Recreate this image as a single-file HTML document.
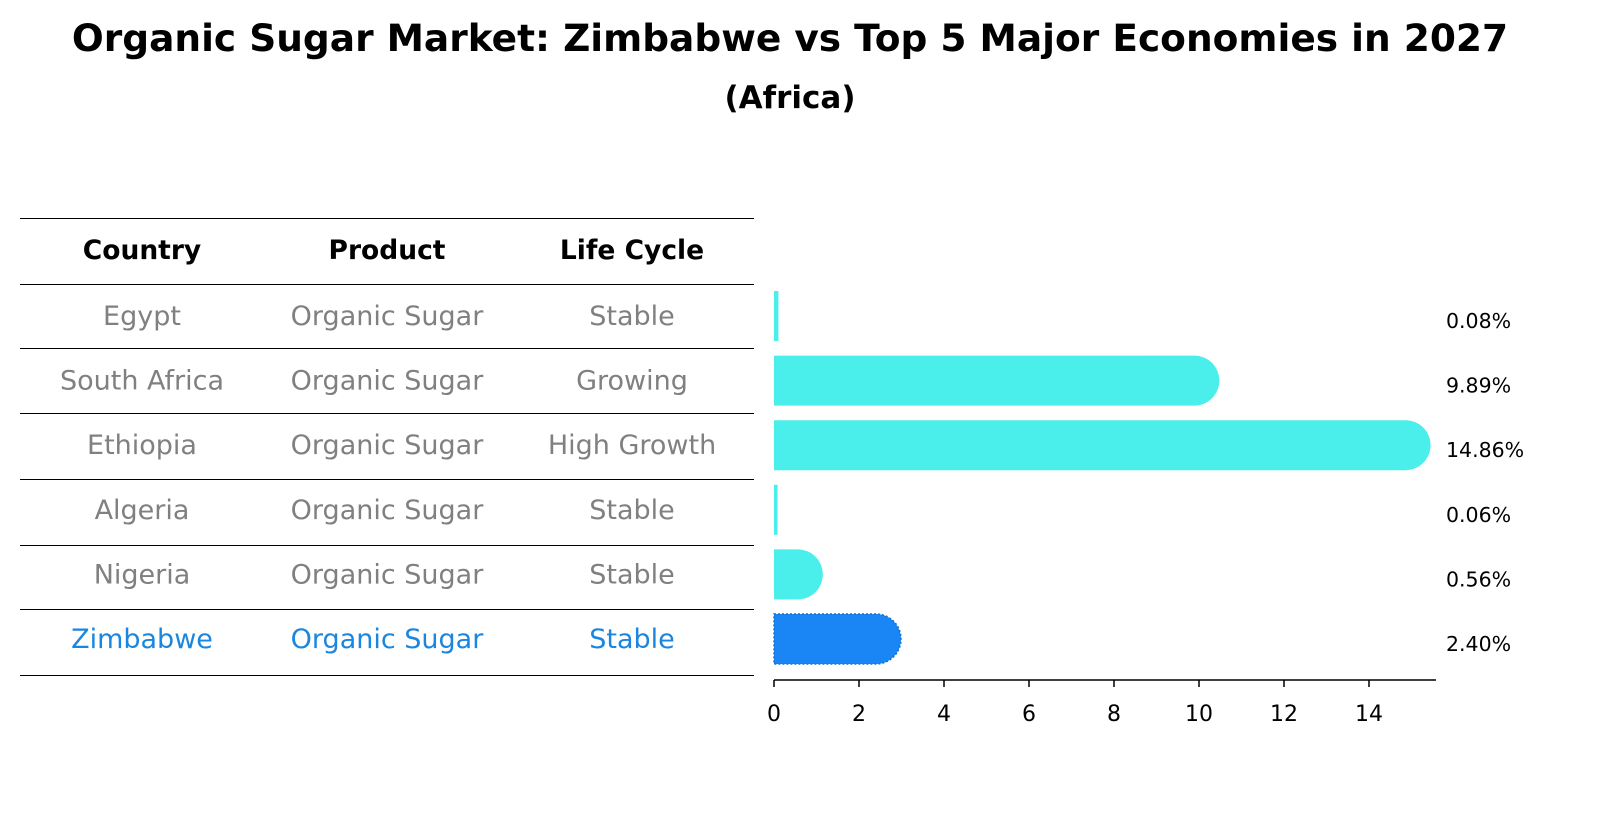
<!DOCTYPE html>
<html><head><meta charset="utf-8"><style>
body{margin:0;background:#fff;font-family:"Liberation Sans","DejaVu Sans",sans-serif}
</style></head><body>
<svg width="1604" height="823" xmlns="http://www.w3.org/2000/svg" font-family="DejaVu Sans, Liberation Sans, sans-serif">
<text x="790" y="51" text-anchor="middle" font-size="37.5" font-weight="bold">Organic Sugar Market: Zimbabwe vs Top 5 Major Economies in 2027</text>
<text x="790" y="108" text-anchor="middle" font-size="31" font-weight="bold">(Africa)</text>
<g id="table"></g>
<g id="bars"></g>
</svg>
<script>
const countries=["Egypt","South Africa","Ethiopia","Algeria","Nigeria","Zimbabwe"];
const products=["Organic Sugar","Organic Sugar","Organic Sugar","Organic Sugar","Organic Sugar","Organic Sugar"];
const lifecycle=["Stable","Growing","High Growth","Stable","Stable","Stable"];
const values=[0.08,9.89,14.86,0.06,0.56,2.40];
const xticks=[0,2,4,6,8,10,12,14];
const NS="http://www.w3.org/2000/svg";
function mk(tag,attrs,parent,text){const e=document.createElementNS(NS,tag);for(const k in attrs)e.setAttribute(k,attrs[k]);if(text!==undefined)e.textContent=text;parent.appendChild(e);return e;}
const x0=774,ppu=42.5;
const xs=v=>x0+v*ppu;
const rowY=i=>316+i*64.6;
const tbl=document.getElementById('table');
const lines=[218,284,348,413,479,545,609,675];
lines.forEach((y,i)=>{const l=mk('line',{x1:20,x2:754,y1:y+0.5,y2:y+0.5,stroke:'#000','stroke-width':1},tbl);

});
const cols=[142,387,632];
["Country","Product","Life Cycle"].forEach((h,j)=>{const t=mk('text',{x:cols[j],y:259,'text-anchor':'middle','font-size':26.5,'font-weight':'bold'},tbl,h);

});
countries.forEach((c,i)=>{const col=c==="Zimbabwe"?'#1a86e0':'#808080';
[c,products[i],lifecycle[i]].forEach((v,j)=>{const t=mk('text',{x:cols[j],y:rowY(i)+9,'text-anchor':'middle','font-size':27,fill:col},tbl,v);

});});
const g=document.getElementById('bars');
const h=50,r=25;
values.forEach((v,i)=>{const cy=rowY(i);const hl=countries[i]==="Zimbabwe";
const fill=hl?'#1a86f5':'#4aeeea';let el;
if(v<0.2){el=mk('rect',{x:x0,y:cy-h/2,width:Math.max(3,v*ppu+1),height:h,fill:fill},g);}
else{const xe=xs(v);
el=mk('path',{d:`M${x0},${cy-h/2} L${xe},${cy-h/2} A${r},${r} 0 0 1 ${xe},${cy+h/2} L${x0},${cy+h/2} Z`,fill:fill,stroke:hl?'#1570d0':'none','stroke-width':hl?1.5:0,'stroke-dasharray':hl?'2,2':''},g);}


const t=mk('text',{x:1446,y:cy+12,'font-size':20.5},g,values[i].toFixed(2)+'%');

});
const ax=mk('line',{x1:x0,x2:1436,y1:680,y2:680,stroke:'#000','stroke-width':1.5},g);


xticks.forEach(v=>{const l=mk('line',{x1:xs(v),x2:xs(v),y1:680,y2:687,stroke:'#000','stroke-width':1.5},g);


const t=mk('text',{x:xs(v),y:721,'text-anchor':'middle','font-size':22},g,String(v));

});
</script>
</body></html>
